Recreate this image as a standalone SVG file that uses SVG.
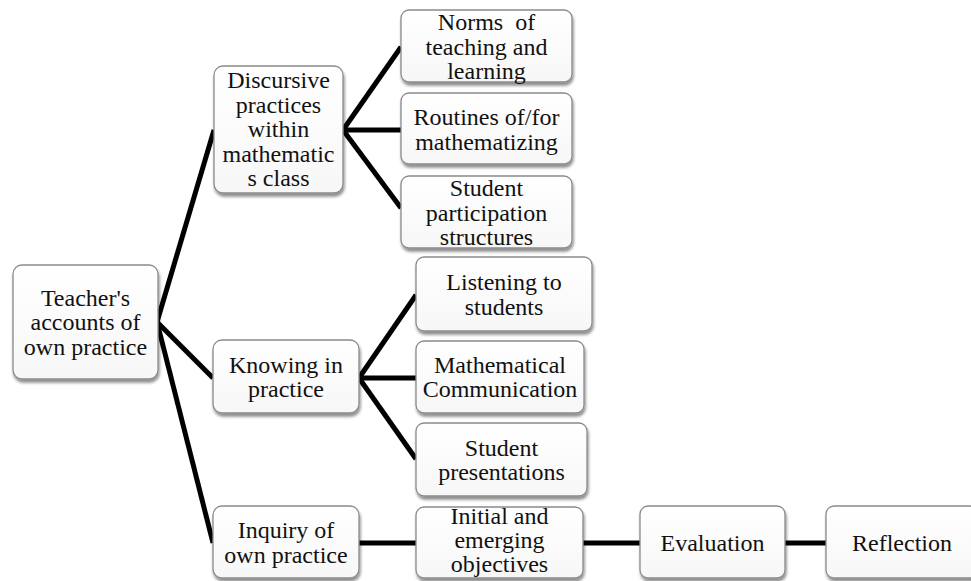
<svg xmlns="http://www.w3.org/2000/svg" width="971" height="581" viewBox="0 0 971 581">
<defs>
<linearGradient id="bg" x1="0" y1="0" x2="0" y2="1">
<stop offset="0" stop-color="#ffffff"/>
<stop offset="1" stop-color="#f7f7f7"/>
</linearGradient>
<filter id="sh" x="-10%" y="-10%" width="125%" height="130%">
<feGaussianBlur in="SourceAlpha" stdDeviation="1.5"/>
<feOffset dx="1" dy="2.5" result="b"/>
<feComponentTransfer><feFuncA type="linear" slope="0.45"/></feComponentTransfer>
<feMerge><feMergeNode/><feMergeNode in="SourceGraphic"/></feMerge>
</filter>
</defs>
<style>
rect.box { fill: url(#bg); stroke: #8a8a8a; stroke-width: 1.3; filter: url(#sh); }
text { font-family: "Liberation Serif", "Times New Roman", serif; font-size: 24px; fill: #111; text-anchor: middle; white-space: pre; }
.conn line { stroke: #000; stroke-width: 5; stroke-linecap: butt; }
</style>
<rect width="971" height="581" fill="#ffffff"/>
<g class="conn" id="connectors">
<line x1="157" y1="322" x2="214" y2="130"/>
<line x1="157" y1="322" x2="213" y2="378"/>
<line x1="157" y1="322" x2="213" y2="543"/>
<line x1="343" y1="130" x2="401" y2="47"/>
<line x1="343" y1="130" x2="401" y2="130"/>
<line x1="343" y1="130" x2="401" y2="208"/>
<line x1="359" y1="378" x2="416" y2="295"/>
<line x1="359" y1="378" x2="416" y2="378"/>
<line x1="359" y1="378" x2="416" y2="459"/>
<line x1="359" y1="543" x2="416" y2="543"/>
<line x1="583" y1="543" x2="640" y2="543"/>
<line x1="785" y1="543" x2="826" y2="543"/>
</g>
<g id="teacher">
<rect class="box" x="13" y="265" width="145" height="114" rx="9"/>
<text x="85.5" y="305.5">Teacher's</text>
<text x="85.5" y="330">accounts of</text>
<text x="85.5" y="354.5">own practice</text>
</g>
<g id="discursive">
<rect class="box" x="214" y="66" width="129" height="127" rx="9"/>
<text x="278.5" y="88">Discursive</text>
<text x="278.5" y="112.5">practices</text>
<text x="278.5" y="137">within</text>
<text x="278.5" y="161.5">mathematic</text>
<text x="278.5" y="186">s class</text>
</g>
<g id="knowing">
<rect class="box" x="213" y="340" width="146" height="73" rx="9"/>
<text x="286" y="372.5">Knowing in</text>
<text x="286" y="397">practice</text>
</g>
<g id="inquiry">
<rect class="box" x="213" y="506" width="146" height="72" rx="9"/>
<text x="286" y="538">Inquiry of</text>
<text x="286" y="562.5">own practice</text>
</g>
<g id="norms">
<rect class="box" x="401" y="10" width="171" height="72" rx="8"/>
<text x="486.5" y="30">Norms  of</text>
<text x="486.5" y="54.5">teaching and</text>
<text x="486.5" y="78.5">learning</text>
</g>
<g id="routines">
<rect class="box" x="401" y="93" width="171" height="71" rx="8"/>
<text x="486.5" y="125">Routines of/for</text>
<text x="486.5" y="149.5">mathematizing</text>
</g>
<g id="participation">
<rect class="box" x="401" y="176" width="171" height="72" rx="8"/>
<text x="486.5" y="196">Student</text>
<text x="486.5" y="220.5">participation</text>
<text x="486.5" y="244.5">structures</text>
</g>
<g id="listening">
<rect class="box" x="416" y="257" width="176" height="74" rx="8"/>
<text x="504" y="290">Listening to</text>
<text x="504" y="314.5">students</text>
</g>
<g id="communication">
<rect class="box" x="416" y="341" width="168" height="72" rx="8"/>
<text x="500" y="372.5">Mathematical</text>
<text x="500" y="397">Communication</text>
</g>
<g id="presentations">
<rect class="box" x="416" y="423" width="171" height="73" rx="8"/>
<text x="501.5" y="455.5">Student</text>
<text x="501.5" y="480">presentations</text>
</g>
<g id="objectives">
<rect class="box" x="416" y="507" width="167" height="71" rx="8"/>
<text x="499.5" y="524">Initial and</text>
<text x="499.5" y="548">emerging</text>
<text x="499.5" y="572">objectives</text>
</g>
<g id="evaluation">
<rect class="box" x="640" y="506" width="145" height="72" rx="8"/>
<text x="712.5" y="551">Evaluation</text>
</g>
<g id="reflection">
<rect class="box" x="826" y="506" width="152" height="72" rx="8"/>
<text x="902" y="551">Reflection</text>
</g>
</svg>
